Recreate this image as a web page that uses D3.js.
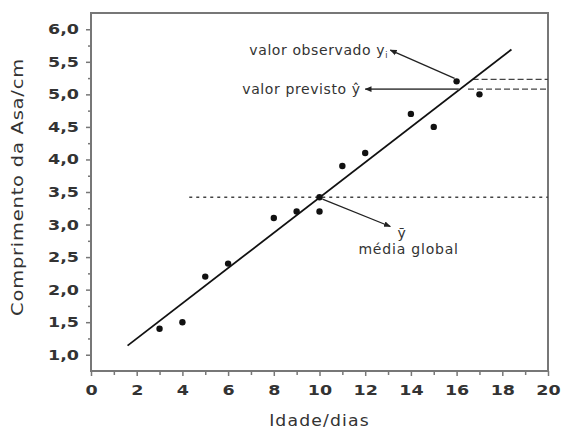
<!DOCTYPE html>
<html>
<head>
<meta charset="utf-8">
<script src="https://cdn.jsdelivr.net/npm/d3@7"></script>
<style>
  body { margin: 0; background: #fff; }
  text { font-family: "DejaVu Sans", Verdana, sans-serif; fill: #333; }
</style>
</head>
<body>
<div id="chart"></div>
<script>
// ---------------------------------------------- DATA ----------------------------------------------
var idade = [3, 4, 5, 6, 8, 9, 10, 11, 12, 14, 15, 16, 17];
var asa   = [1.4, 1.5, 2.2, 2.4, 3.1, 3.2, 3.2, 3.9, 4.1, 4.7, 4.5, 5.2, 5.0];

// fitted line end points
var retaX = [1.6, 18.4];
var retaY = [1.14, 5.69];

var mediaX = 10, mediaY = 3.42;     // global mean point
var observadoY = 5.23, previstoY = 5.08;

var xTicks = [0, 2, 4, 6, 8, 10, 12, 14, 16, 18, 20];
var yTicks = [1.0, 1.5, 2.0, 2.5, 3.0, 3.5, 4.0, 4.5, 5.0, 5.5, 6.0];

// ---------------------------------------------- SVG -----------------------------------------------
var width = 561, height = 433;
var margin = {top: 13, right: 13, bottom: 62, left: 91};
var stretch = 1.25;   // the lettering in the picture is wide

var svg = d3.select("#chart").append("svg")
    .attr("width", width)
    .attr("height", height);

var x = d3.scaleLinear().domain([0, 20]).range([margin.left, width - margin.right]);
var y = d3.scaleLinear().domain([0.75, 6.25]).range([height - margin.bottom, margin.top]);

var fmt = function(d) { return d3.format(".1f")(d).replace(".", ","); };

var defs = svg.append("defs");
defs.append("marker")
    .attr("id", "seta")
    .attr("viewBox", "0 0 10 10")
    .attr("refX", 9).attr("refY", 5)
    .attr("markerWidth", 7).attr("markerHeight", 7)
    .attr("markerUnits", "userSpaceOnUse")
    .attr("orient", "auto")
  .append("path")
    .attr("d", "M0,1 L10,5 L0,9 z")
    .attr("fill", "#222");

// frame
svg.append("rect")
    .attr("x", x(0)).attr("y", y(6.25))
    .attr("width", x(20) - x(0)).attr("height", y(0.75) - y(6.25))
    .attr("fill", "none").attr("stroke", "#777").attr("stroke-width", 2);

// axes
svg.append("g")
    .attr("class", "eixo-x")
    .attr("transform", "translate(0," + y(0.75) + ")")
    .call(d3.axisBottom(x).tickValues(xTicks).tickSize(5).tickPadding(9));
svg.append("g")
    .attr("transform", "translate(0," + y(0.75) + ")")
    .call(d3.axisBottom(x).tickValues(d3.range(1, 20, 2)).tickSize(4).tickFormat(""));

svg.append("g")
    .attr("class", "eixo-y")
    .attr("transform", "translate(" + x(0) + ",0)")
    .call(d3.axisLeft(y).tickValues(yTicks).tickSize(5).tickPadding(5).tickFormat(fmt));
svg.append("g")
    .attr("transform", "translate(" + x(0) + ",0)")
    .call(d3.axisLeft(y).tickValues(d3.range(1.25, 6.25, 0.5)).tickSize(3).tickFormat(""));

svg.selectAll(".domain").remove();
svg.selectAll(".tick line").attr("stroke", "#777").attr("stroke-width", 1.5);
svg.selectAll(".tick text")
    .style("font-family", "'DejaVu Sans', Verdana, sans-serif")
    .style("font-size", "14px")
    .style("font-weight", "bold")
    .attr("fill", "#444")
    .attr("transform", "scale(" + stretch + ",1)");
svg.selectAll(".eixo-y .tick text").attr("x", -12 / stretch);

// axis titles
svg.append("text")
    .attr("transform", "translate(" + x(10) + ",426) scale(1.15,1)")
    .attr("text-anchor", "middle")
    .style("font-size", "15px")
    .style("letter-spacing", "1px")
    .text("Idade/dias");

svg.append("text")
    .attr("transform", "translate(23," + (y(3.5) - 5) + ") rotate(-90) scale(1.3,1)")
    .attr("text-anchor", "middle")
    .style("font-size", "15px")
    .style("letter-spacing", "0.6px")
    .text("Comprimento da Asa/cm");

// reference lines
svg.append("line")
    .attr("x1", x(4.3)).attr("x2", x(20))
    .attr("y1", y(mediaY)).attr("y2", y(mediaY))
    .attr("stroke", "#444").attr("stroke-width", 1.5)
    .attr("stroke-dasharray", "3,4");

svg.append("line")
    .attr("x1", x(16.7)).attr("x2", x(20))
    .attr("y1", y(observadoY)).attr("y2", y(observadoY))
    .attr("stroke", "#444").attr("stroke-width", 1.3)
    .attr("stroke-dasharray", "6,3");

svg.append("line")
    .attr("x1", x(16.5)).attr("x2", x(20))
    .attr("y1", y(previstoY)).attr("y2", y(previstoY))
    .attr("stroke", "#444").attr("stroke-width", 1.3)
    .attr("stroke-dasharray", "6,3");

// regression line
svg.append("line")
    .attr("x1", x(retaX[0])).attr("y1", y(retaY[0]))
    .attr("x2", x(retaX[1])).attr("y2", y(retaY[1]))
    .attr("stroke", "#111").attr("stroke-width", 1.8);

// points
svg.selectAll(".ponto")
    .data(idade)
  .enter().append("circle")
    .attr("class", "ponto")
    .attr("cx", function(d) { return x(d); })
    .attr("cy", function(d, i) { return y(asa[i]); })
    .attr("r", 3.2)
    .attr("fill", "#111");

svg.append("circle")
    .attr("cx", x(mediaX)).attr("cy", y(mediaY))
    .attr("r", 3.2).attr("fill", "#111");

// annotations
svg.append("line")
    .attr("x1", x(16) - 2).attr("y1", y(5.2) - 3)
    .attr("x2", x(13.1)).attr("y2", y(5.68))
    .attr("stroke", "#222").attr("stroke-width", 1.3)
    .attr("marker-end", "url(#seta)");

svg.append("line")
    .attr("x1", x(16.1)).attr("y1", y(previstoY))
    .attr("x2", x(12)).attr("y2", y(previstoY))
    .attr("stroke", "#555").attr("stroke-width", 1.8)
    .attr("marker-end", "url(#seta)");

svg.append("line")
    .attr("x1", x(10) + 3).attr("y1", y(mediaY) + 2)
    .attr("x2", x(13.1)).attr("y2", y(2.97))
    .attr("stroke", "#222").attr("stroke-width", 1.3)
    .attr("marker-end", "url(#seta)");

var obs = svg.append("text")
    .attr("x", x(13.0)).attr("y", y(5.68) + 5)
    .attr("text-anchor", "end")
    .style("font-size", "14px")
    .style("letter-spacing", "0.6px");
obs.append("tspan").text("valor observado y");
obs.append("tspan").attr("dy", 3).style("font-size", "8px").text("i");

var prev = svg.append("text")
    .attr("x", x(11.8)).attr("y", y(previstoY) + 5)
    .attr("text-anchor", "end")
    .style("font-size", "14px")
    .style("letter-spacing", "0.6px");
prev.append("tspan").text("valor previsto ");
prev.append("tspan").text("\u0177");

svg.append("text")
    .attr("x", x(13.6)).attr("y", y(2.79))
    .attr("text-anchor", "middle")
    .style("font-size", "14px")
    .text("\u0233");

svg.append("text")
    .attr("x", x(13.9)).attr("y", y(2.54))
    .attr("text-anchor", "middle")
    .style("font-size", "14px")
    .style("letter-spacing", "0.8px")
    .text("média global");
</script>
</body>
</html>
